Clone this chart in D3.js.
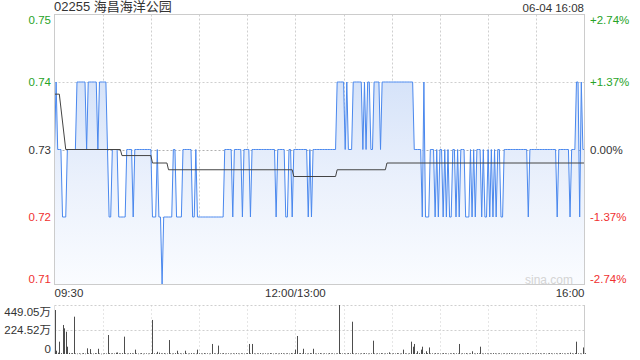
<!DOCTYPE html>
<html><head><meta charset="utf-8">
<script src="https://cdn.jsdelivr.net/npm/d3@7"></script>
<style>body{margin:0;background:#fff}svg{display:block}text{font-family:"Liberation Sans",Arial,sans-serif}</style>
</head><body><svg id="c" width="640" height="360"></svg>
<script>
const title = "02255 海昌海洋公园";
const stamp = "06-04 16:08";
const prevClose = 0.73;
const priceTicks = [0.75, 0.74, 0.73, 0.72, 0.71];
const pctTicks = ["+2.74%", "+1.37%", "0.00%", "-1.37%", "-2.74%"];
const timeLabels = ["09:30", "12:00/13:00", "16:00"];
const timeLabelMinutes = [0, 150, 330];
const volTicks = [449.05, 224.52, 0];
const volTickLabels = ["449.05万", "224.52万", "0"];
// price per minute, minute 0 = 09:30, 150 = 12:00/13:00, 330 = 16:00
const prices = [
0.73,0.74,0.73,0.73,0.73,0.72,0.72,0.72,0.73,0.73,
0.73,0.73,0.73,0.73,0.74,0.74,0.74,0.74,0.74,0.74,
0.73,0.74,0.74,0.74,0.74,0.74,0.74,0.73,0.74,0.74,
0.74,0.74,0.74,0.73,0.72,0.72,0.73,0.73,0.73,0.73,
0.72,0.72,0.72,0.72,0.72,0.73,0.73,0.73,0.73,0.72,
0.73,0.73,0.73,0.73,0.73,0.73,0.73,0.73,0.73,0.73,
0.73,0.72,0.72,0.72,0.73,0.72,0.72,0.71,0.72,0.72,
0.72,0.72,0.72,0.72,0.73,0.73,0.72,0.72,0.72,0.72,
0.73,0.73,0.73,0.73,0.73,0.73,0.72,0.72,0.73,0.72,
0.72,0.72,0.72,0.72,0.72,0.72,0.72,0.72,0.72,0.72,
0.72,0.72,0.72,0.72,0.72,0.72,0.73,0.73,0.73,0.73,
0.73,0.72,0.73,0.73,0.73,0.73,0.73,0.72,0.73,0.73,
0.73,0.73,0.72,0.73,0.73,0.73,0.73,0.73,0.73,0.73,
0.73,0.73,0.73,0.73,0.73,0.73,0.73,0.73,0.72,0.73,
0.73,0.73,0.73,0.73,0.72,0.72,0.73,0.73,0.72,0.73,
0.73,0.73,0.73,0.73,0.73,0.73,0.73,0.73,0.72,0.73,
0.72,0.73,0.73,0.73,0.73,0.73,0.73,0.73,0.73,0.73,
0.73,0.73,0.73,0.73,0.73,0.73,0.74,0.74,0.74,0.74,
0.74,0.73,0.74,0.73,0.73,0.73,0.74,0.74,0.74,0.74,
0.74,0.74,0.73,0.74,0.73,0.74,0.74,0.73,0.73,0.74,
0.74,0.74,0.74,0.73,0.74,0.74,0.74,0.74,0.74,0.74,
0.74,0.74,0.74,0.74,0.74,0.74,0.74,0.74,0.74,0.74,
0.74,0.74,0.74,0.74,0.73,0.73,0.73,0.73,0.73,0.72,
0.74,0.72,0.72,0.72,0.73,0.73,0.73,0.72,0.73,0.72,
0.73,0.73,0.72,0.73,0.72,0.73,0.72,0.72,0.73,0.73,
0.72,0.73,0.72,0.73,0.73,0.73,0.72,0.72,0.72,0.73,
0.72,0.73,0.72,0.73,0.73,0.73,0.72,0.73,0.72,0.72,
0.73,0.72,0.73,0.72,0.73,0.72,0.73,0.73,0.72,0.72,
0.73,0.73,0.73,0.73,0.73,0.73,0.73,0.73,0.73,0.73,
0.73,0.73,0.73,0.73,0.73,0.72,0.73,0.73,0.73,0.73,
0.73,0.73,0.73,0.73,0.73,0.73,0.73,0.73,0.73,0.73,
0.73,0.73,0.73,0.72,0.73,0.73,0.73,0.73,0.73,0.73,
0.73,0.72,0.73,0.73,0.73,0.74,0.74,0.72,0.74,0.73,
0.73];
// average price line, read as [minute, price] points
const avgMinutes = [0, 3, 7, 41, 42, 60, 61, 70, 71, 148, 149, 175, 176, 206, 207, 330];
const avgPrices = [0.7382, 0.7382, 0.7300, 0.7300, 0.7291, 0.7291, 0.7280, 0.7280, 0.7270, 0.7270, 0.7260, 0.7260, 0.7270, 0.7270, 0.7280, 0.7280];
// volume per minute, in 万
const volumes = [
403,30,12,113,8,266,235,204,67,10,
6,8,342,5,4,6,3,5,8,4,
52,6,45,5,4,8,6,48,5,3,
4,6,5,174,8,5,6,5,12,14,
6,5,8,159,6,4,5,8,6,5,
40,6,4,5,8,3,5,6,4,5,
8,312,6,5,20,12,6,5,8,4,
5,128,6,4,5,8,30,5,6,4,
5,30,6,4,5,8,6,5,4,40,
6,5,4,8,5,6,4,5,92,6,
5,4,77,6,5,8,4,5,6,4,
5,6,4,8,5,4,6,5,4,6,
8,92,6,92,5,4,6,5,8,4,
5,6,4,5,8,6,4,5,6,4,
5,8,6,4,5,6,4,8,5,6,
40,165,6,8,5,48,6,4,5,8,
6,48,5,4,6,8,5,4,6,5,
4,8,5,6,4,5,6,449.05,8,5,
6,4,5,8,6,296,5,4,6,5,
4,6,5,8,6,4,5,6,122,5,
4,6,5,8,6,4,5,6,15,5,
4,6,5,8,6,4,5,40,6,5,
4,6,113,67,92,6,25,8,40,67,
6,25,8,60,5,6,4,8,5,6,
4,5,8,6,5,4,6,5,8,4,
6,5,92,4,6,5,8,4,5,6,
25,5,4,8,6,67,5,4,6,5,
4,6,5,8,6,4,5,6,4,5,
6,4,5,8,6,5,4,6,5,4,
5,6,4,5,8,6,4,5,6,4,
5,8,6,4,5,6,4,5,8,6,
4,5,6,4,5,8,6,5,4,6,
5,12,6,4,8,113,6,5,4,60,
8];

const svg = d3.select("#c");
const L = 54.5, R = 584.5, T = 14.5, B = 284.5;
const x = d3.scaleLinear().domain([0, 330]).range([L, R]);
const y = d3.scaleLinear().domain([0.71, 0.75]).range([B, T]);
const vy = d3.scaleLinear().domain([0, 449.05]).range([354, 305]);

const grid = svg.append("g");
d3.range(30, 330, 30).forEach(m => {
  grid.append("line").attr("x1", Math.round(x(m)) + 0.5).attr("x2", Math.round(x(m)) + 0.5)
    .attr("y1", T).attr("y2", B).attr("stroke", "#cfcfcf").attr("stroke-dasharray", "2,2");
  grid.append("line").attr("x1", Math.round(x(m)) + 0.5).attr("x2", Math.round(x(m)) + 0.5)
    .attr("y1", 305).attr("y2", 354).attr("stroke", "#e6e6e6").attr("stroke-dasharray", "2,2");
});
[0.74, 0.73, 0.72].forEach(p => {
  grid.append("line").attr("x1", L).attr("x2", R).attr("y1", Math.round(y(p)) + 0.5).attr("y2", Math.round(y(p)) + 0.5)
    .attr("stroke", p === prevClose ? "#b0b0b0" : "#cfcfcf").attr("stroke-dasharray", "2,2");
});

const defs = svg.append("defs");
const grad = defs.append("linearGradient").attr("id", "g").attr("gradientUnits", "userSpaceOnUse")
  .attr("x1", 0).attr("x2", 0).attr("y1", y(0.74)).attr("y2", B);
grad.append("stop").attr("offset", 0).attr("stop-color", "#d6e3f9");
grad.append("stop").attr("offset", 0.5).attr("stop-color", "#ebf1fc");
grad.append("stop").attr("offset", 1).attr("stop-color", "#fafcff");

const pts = prices.map((p, i) => [i, p]);
svg.append("path").datum(pts)
  .attr("d", d3.area().x(d => x(d[0])).y0(B).y1(d => y(d[1])))
  .attr("fill", "url(#g)");
svg.append("path").datum(pts)
  .attr("d", d3.line().x(d => x(d[0])).y(d => y(d[1])))
  .attr("fill", "none").attr("stroke", "#4a88ee").attr("stroke-width", 1);

const avgPts = avgMinutes.map((m, i) => [m, avgPrices[i]]);
svg.append("path").datum(avgPts)
  .attr("d", d3.line().x(d => x(d[0])).y(d => y(d[1])))
  .attr("fill", "none").attr("stroke", "#444").attr("stroke-width", 1);

svg.append("rect").attr("x", L).attr("y", T).attr("width", R - L).attr("height", B - T)
  .attr("fill", "none").attr("stroke", "#cccccc");

svg.append("text").attr("x", 573).attr("y", 284).attr("text-anchor", "end")
  .attr("font-size", 12).attr("fill", "#d4d4d4").text("sina.com");

svg.append("text").attr("x", 54).attr("y", 11).attr("font-size", 13).attr("fill", "#333")
  .style("font-family", "'Liberation Sans','Noto Sans CJK SC',sans-serif").text(title);
svg.append("text").attr("x", 584).attr("y", 12).attr("text-anchor", "end").attr("font-size", 11.5).attr("fill", "#333").text(stamp);

const colorFor = p => p > prevClose ? "#27a327" : (p < prevClose ? "#f03030" : "#333");
priceTicks.forEach((p, i) => {
  let yy = y(p);
  yy = Math.max(20, Math.min(278.5, yy));
  svg.append("text").attr("x", 51).attr("y", yy).attr("dy", "0.35em").attr("text-anchor", "end")
    .attr("font-size", 11.5).attr("fill", colorFor(p)).text(p.toFixed(2));
  svg.append("text").attr("x", 590).attr("y", yy).attr("dy", "0.35em")
    .attr("font-size", 11.5).attr("fill", colorFor(p)).text(pctTicks[i]);
});

timeLabels.forEach((t, i) => {
  const m = timeLabelMinutes[i];
  svg.append("text").attr("x", i === 0 ? L : (i === 2 ? R : x(m)))
    .attr("y", 293).attr("dy", "0.35em")
    .attr("text-anchor", i === 0 ? "start" : (i === 2 ? "end" : "middle"))
    .attr("font-size", 11.5).attr("fill", "#333").text(t);
});

[449.05, 224.52].forEach(v => {
  svg.append("line").attr("x1", L).attr("x2", R).attr("y1", Math.round(vy(v)) + 0.5).attr("y2", Math.round(vy(v)) + 0.5)
    .attr("stroke", "#cfcfcf").attr("stroke-dasharray", "2,2");
});
svg.append("line").attr("x1", R).attr("x2", R).attr("y1", 305).attr("y2", 354).attr("stroke", "#cccccc");
svg.append("line").attr("x1", L).attr("x2", L).attr("y1", 305).attr("y2", 354).attr("stroke", "#e0e0e0");
svg.append("g").selectAll("rect").data(volumes).join("rect")
  .attr("x", (d, i) => Math.round(x(i)))
  .attr("y", d => vy(d))
  .attr("width", 1)
  .attr("height", d => Math.max(0.6, 354 - vy(d)))
  .attr("fill", "#4d4d4d");
volTicks.forEach((v, i) => {
  let yy = vy(v);
  yy = Math.max(311.5, Math.min(348.5, yy));
  svg.append("text").attr("x", 51).attr("y", yy).attr("dy", "0.35em").attr("text-anchor", "end")
    .attr("font-size", 11.5).attr("fill", "#333")
    .style("font-family", "'Liberation Sans','Noto Sans CJK SC',sans-serif").text(volTickLabels[i]);
});
</script></body></html>
